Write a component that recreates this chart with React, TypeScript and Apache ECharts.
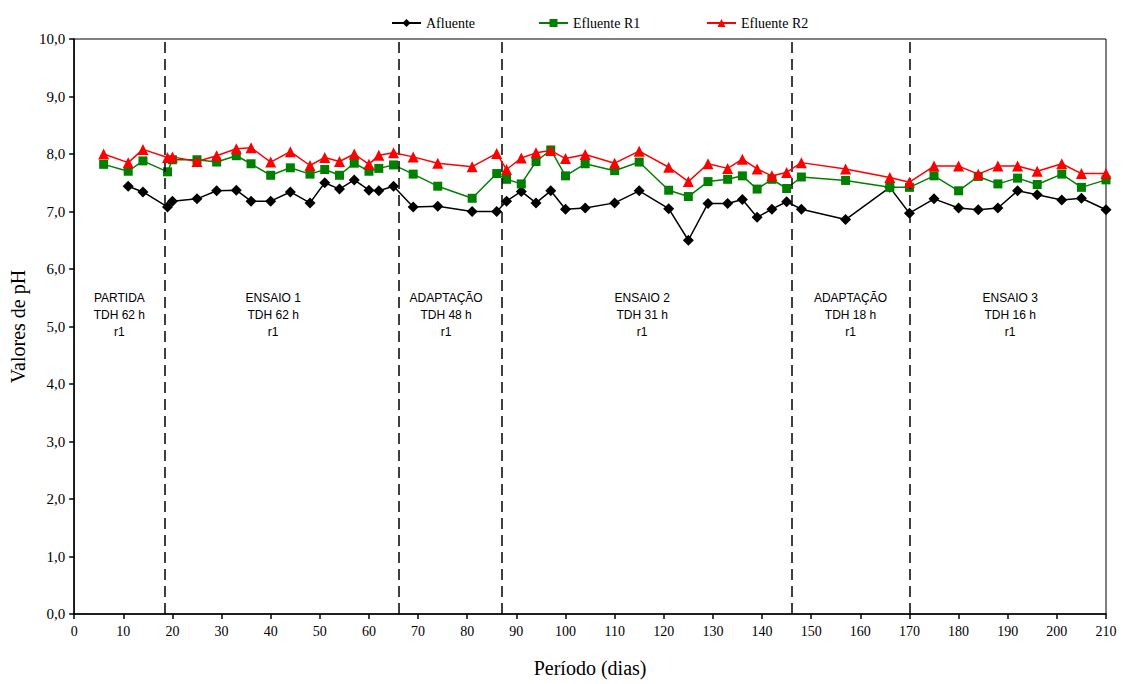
import React, { useEffect, useRef } from "react";
import * as echarts from "echarts";

// Sampling days (R1/R2 effluents start on day 6, influent on day 11)
const effluentDays = [6, 11, 14, 19, 20, 25, 29, 33, 36, 40, 44, 48, 51, 54, 57, 60, 62, 65, 69, 74, 81, 86, 88, 91, 94, 97, 100, 104, 110, 115, 121, 125, 129, 133, 136, 139, 142, 145, 148, 157, 166, 170, 175, 180, 184, 188, 192, 196, 201, 205, 210];
const influentDays = effluentDays.slice(1);

const afluente = [7.44, 7.34, 7.08, 7.18, 7.22, 7.36, 7.37, 7.18, 7.18, 7.34, 7.15, 7.5, 7.39, 7.55, 7.37, 7.36, 7.44, 7.08, 7.09, 7.0, 7.0, 7.18, 7.35, 7.15, 7.36, 7.04, 7.06, 7.15, 7.36, 7.05, 6.5, 7.14, 7.14, 7.21, 6.9, 7.04, 7.17, 7.04, 6.86, 7.42, 6.97, 7.22, 7.06, 7.03, 7.06, 7.36, 7.29, 7.2, 7.23, 7.03];
const efluenteR1 = [7.82, 7.7, 7.88, 7.69, 7.9, 7.9, 7.86, 7.97, 7.83, 7.63, 7.76, 7.65, 7.73, 7.63, 7.84, 7.7, 7.75, 7.81, 7.65, 7.44, 7.23, 7.66, 7.56, 7.48, 7.87, 8.07, 7.62, 7.83, 7.71, 7.86, 7.37, 7.26, 7.52, 7.56, 7.62, 7.39, 7.56, 7.4, 7.6, 7.54, 7.42, 7.42, 7.62, 7.36, 7.61, 7.48, 7.58, 7.47, 7.65, 7.42, 7.55];
const efluenteR2 = [8.0, 7.85, 8.08, 7.94, 7.95, 7.87, 7.97, 8.09, 8.11, 7.86, 8.04, 7.8, 7.94, 7.87, 8.0, 7.82, 7.98, 8.02, 7.95, 7.84, 7.78, 8.01, 7.73, 7.93, 8.02, 8.06, 7.92, 7.99, 7.84, 8.05, 7.77, 7.52, 7.83, 7.75, 7.91, 7.74, 7.62, 7.68, 7.85, 7.74, 7.59, 7.51, 7.79, 7.79, 7.65, 7.79, 7.79, 7.7, 7.83, 7.66, 7.66];

// Phase boundaries (days)
const phaseBoundaries = [18.5, 66, 87, 146, 170];

// Phase labels: [day, pH, text]
const phaseLabels: [number, number, string][] = [
  [9.2, 5.2, "PARTIDA\nTDH 62 h\nr1"],
  [40.5, 5.2, "ENSAIO 1\nTDH 62 h\nr1"],
  [75.7, 5.2, "ADAPTAÇÃO\nTDH 48 h\nr1"],
  [115.6, 5.2, "ENSAIO 2\nTDH 31 h\nr1"],
  [158, 5.2, "ADAPTAÇÃO\nTDH 18 h\nr1"],
  [190.5, 5.2, "ENSAIO 3\nTDH 16 h\nr1"],
];

const SERIF = "'Liberation Serif', 'Times New Roman', serif";
const SANS = "'Liberation Sans', Arial, sans-serif";

const zip = (xs: number[], ys: number[]) => xs.map((x, i) => [x, ys[i]]);

export default function App() {
  const ref = useRef<HTMLDivElement>(null);

  useEffect(() => {
    document.body.style.margin = "0";
    if (!ref.current) return;
    const chart = echarts.init(ref.current, undefined, { renderer: "svg" });

    const legendBase = {
      top: 11,
      itemWidth: 29,
      itemHeight: 10,
      itemGap: 5,
      textStyle: { fontFamily: SERIF, fontSize: 14, color: "#000" },
    };

    chart.setOption({
      animation: false,
      backgroundColor: "#fff",
      grid: {
        left: 74,
        right: 19,
        top: 39,
        bottom: 70,
        show: true,
        borderColor: "#000",
        borderWidth: 1,
      },
      legend: [
        { ...legendBase, left: 386, data: ["Afluente"] },
        { ...legendBase, left: 533, data: ["Efluente R1"] },
        { ...legendBase, left: 701, data: ["Efluente R2"] },
      ],
      xAxis: {
        type: "value",
        min: 0,
        max: 210,
        interval: 10,
        name: "Período (dias)",
        nameLocation: "middle",
        nameGap: 44,
        nameTextStyle: { fontFamily: SERIF, fontSize: 20, color: "#000" },
        axisLine: { lineStyle: { color: "#000", width: 1.5 } },
        axisTick: { show: true, inside: false, length: 5, lineStyle: { color: "#000", width: 1.5 } },
        axisLabel: { fontFamily: SERIF, fontSize: 14, color: "#000", margin: 10 },
        splitLine: { show: false },
      },
      yAxis: {
        type: "value",
        min: 0,
        max: 10,
        interval: 1,
        name: "Valores de pH",
        nameLocation: "middle",
        nameGap: 42,
        nameTextStyle: { fontFamily: SERIF, fontSize: 20, color: "#000" },
        axisLine: { show: true, lineStyle: { color: "#000", width: 1.5 } },
        axisTick: { show: true, inside: false, length: 5, lineStyle: { color: "#000", width: 1.5 } },
        axisLabel: {
          fontFamily: SERIF,
          fontSize: 15,
          color: "#000",
          margin: 9,
          formatter: (v: number) => v.toFixed(1).replace(".", ","),
        },
        splitLine: { show: false },
      },
      series: [
        {
          name: "Afluente",
          type: "line",
          data: zip(influentDays, afluente),
          symbol: "diamond",
          symbolSize: 11,
          color: "#000",
          lineStyle: { color: "#000", width: 1.5 },
          itemStyle: { color: "#000" },
          z: 3,
          markLine: {
            silent: true,
            symbol: ["none", "none"],
            label: { show: false },
            lineStyle: { color: "#000", width: 1.5, type: [11, 6] },
            data: phaseBoundaries.map((d) => ({ xAxis: d })),
          },
        },
        {
          name: "Efluente R1",
          type: "line",
          data: zip(effluentDays, efluenteR1),
          symbol: "rect",
          symbolSize: 9,
          color: "#008000",
          lineStyle: { color: "#008000", width: 1.5 },
          itemStyle: { color: "#008000" },
          z: 4,
        },
        {
          name: "Efluente R2",
          type: "line",
          data: zip(effluentDays, efluenteR2),
          symbol: "triangle",
          symbolSize: 11,
          color: "#ff0000",
          lineStyle: { color: "#ff0000", width: 1.5 },
          itemStyle: { color: "#ff0000" },
          z: 5,
        },
        {
          name: "fases",
          type: "scatter",
          data: phaseLabels,
          symbolSize: 1,
          itemStyle: { color: "#fff", opacity: 1 },
          silent: true,
          label: {
            show: true,
            position: "inside",
            formatter: (p: any) => p.data[2],
            fontFamily: SANS,
            fontSize: 12,
            lineHeight: 17,
            color: "#000",
            opacity: 1,
            textBorderWidth: 0,
            textBorderColor: "transparent",
            align: "center",
            verticalAlign: "middle",
          },
        },
      ],
    });

    return () => chart.dispose();
  }, []);

  return <div ref={ref} style={{ width: 1125, height: 684 }} />;
}
